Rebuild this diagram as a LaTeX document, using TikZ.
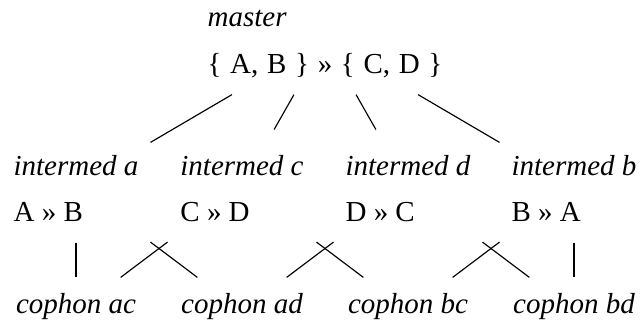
\documentclass[tikz,border=0pt]{standalone}
\usepackage{fontspec}
\setmainfont{Liberation Serif}
\tikzset{
  rootbox/.style={align=left, inner xsep=2pt, minimum height=37.3pt, text height=22.8pt, text depth=0pt},
  midbox/.style={align=left, inner xsep=2pt, minimum width=51pt, minimum height=38.6pt, text height=24.8pt, text depth=0pt},
  leafbox/.style={inner xsep=2pt, minimum height=22.8pt, text height=7pt, text depth=5.6pt}
}
\begin{document}
\begin{tikzpicture}[x=0.345pt, y=-0.345pt]
\useasboundingbox (0,0) rectangle (641,333);
\node[rootbox] (master) at (325,40) {\textit{master}\\[4pt] {\spaceskip=3pt\{ A, B \} » \{ C, D \}}};

\node[midbox] (ia) at (76,186) {\textit{intermed a}\\[4pt] A » B};
\node[midbox] (ic) at (242,186) {\textit{intermed c}\\[4pt] C » D};
\node[midbox] (id) at (408,186) {\textit{intermed d}\\[4pt] D » C};
\node[midbox] (ib) at (574,186) {\textit{intermed b}\\[4pt] B » A};

\node[leafbox] (cac) at (76,311) {\textit{cophon ac}};
\node[leafbox] (cad) at (242,311) {\textit{cophon ad}};
\node[leafbox] (cbc) at (408,311) {\textit{cophon bc}};
\node[leafbox] (cbd) at (574,311) {\textit{cophon bd}};

\draw (master) -- (ia);
\draw (master) -- (ic);
\draw (master) -- (id);
\draw (master) -- (ib);

\draw (ia) -- (cac);
\draw (ic) -- (cac);
\draw (ia) -- (cad);
\draw (id) -- (cad);
\draw (ic) -- (cbc);
\draw (ib) -- (cbc);
\draw (id) -- (cbd);
\draw (ib) -- (cbd);
\end{tikzpicture}
\end{document}
